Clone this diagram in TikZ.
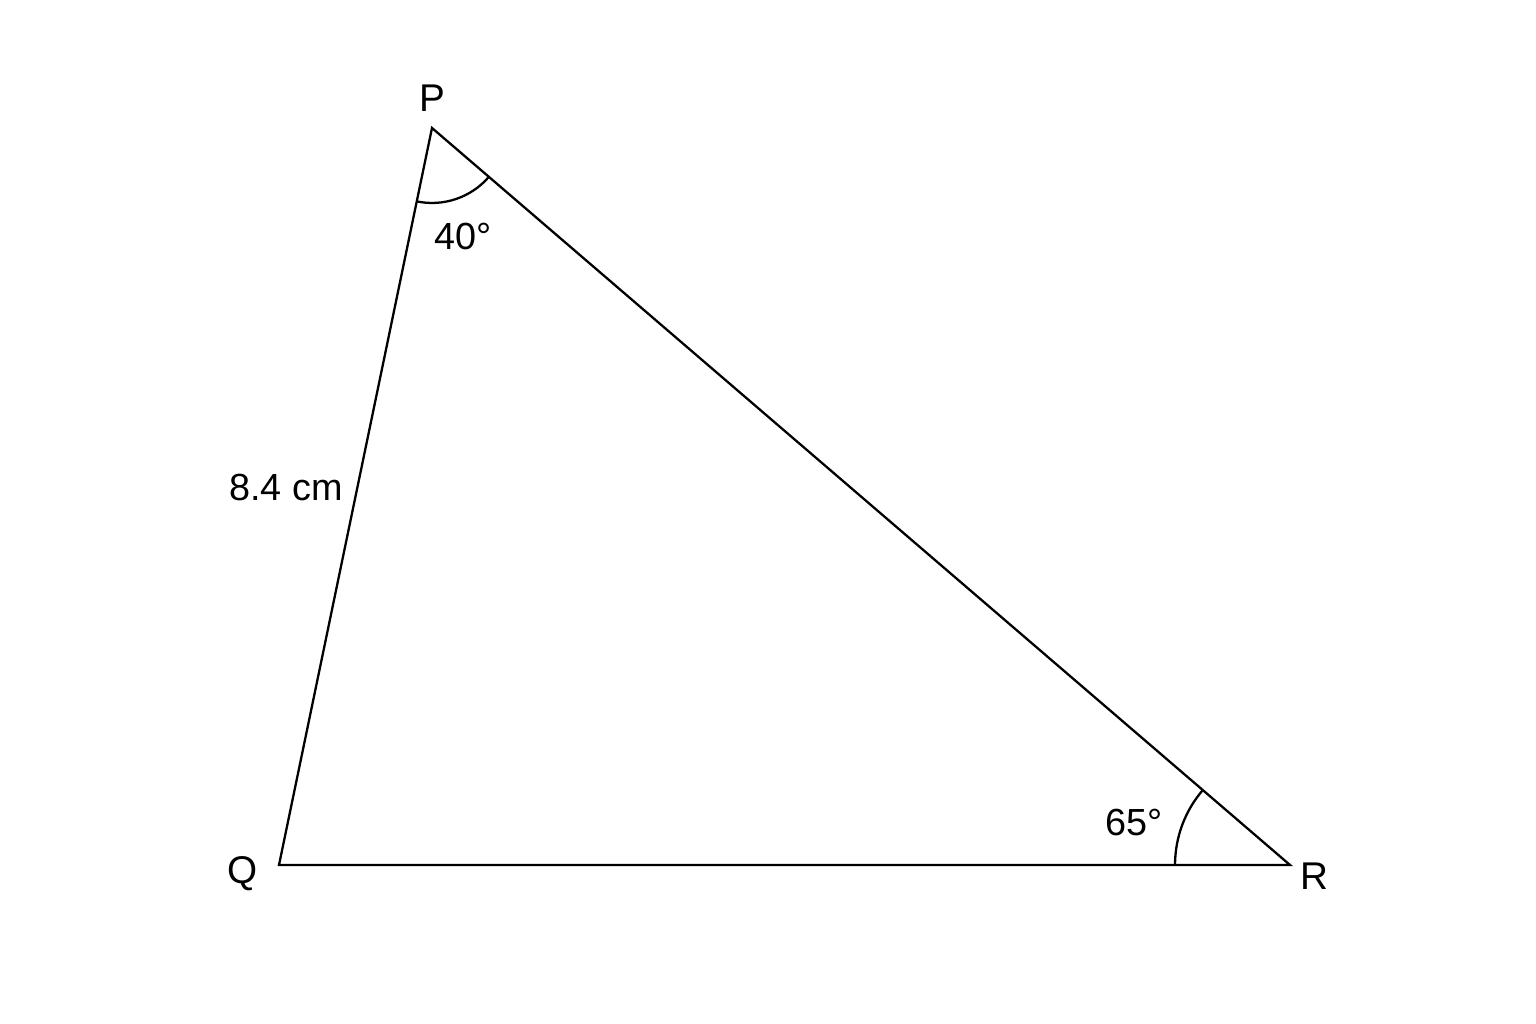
\documentclass[tikz,border=0pt]{standalone}
\usepackage{fontspec}
\setmainfont{Liberation Sans}
\usetikzlibrary{calc}
\begin{document}
\begin{tikzpicture}[x=0.02cm,y=0.02cm,
  edge/.style={line width=1.3pt,line join=miter},
  anglearc/.style={line width=1.3pt},
  vlabel/.style={font=\fontsize{22}{26}\selectfont,inner sep=0pt},
  alabel/.style={font=\fontsize{21.5}{25}\selectfont,inner sep=0pt}]
\useasboundingbox (0,0) rectangle (1536,1024);
\coordinate (P) at (432,896);
\coordinate (Q) at (279,159);
\coordinate (R) at (1290,159);
\draw[edge] (P) -- (Q) -- (R) -- cycle;
% angle arcs
\draw[anglearc] ($(P)!1.5cm!(Q)$) arc[start angle=258.27, end angle=319.34, radius=1.5cm];
\draw[anglearc] ($(R)!2.3cm!(P)$) arc[start angle=139.34, end angle=180, radius=2.3cm];
% labels
\node[vlabel] (lP) at (432,926) {P};
\node[vlabel] (lQ) at (243,150) {Q};
\node[vlabel] (lR) at (1314,148) {R};
\node[alabel] (a40) at (463,787) {40°};
\node[alabel] (a65) at (1134,201) {65°};
\node[alabel] (side) at (286,536) {8.4 cm};
\end{tikzpicture}
\end{document}
